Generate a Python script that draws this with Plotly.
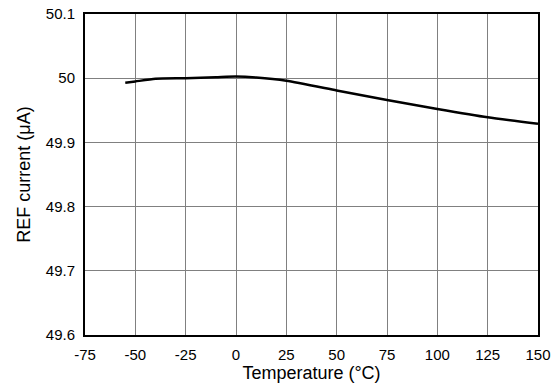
import plotly.graph_objects as go

temperature = [-55, -50, -40, -25, -10, 0, 10, 25, 50, 75, 100, 125, 150]
ref_current = [49.993, 49.995, 49.999, 50.000, 50.0015, 50.0025, 50.001, 49.996, 49.981, 49.966, 49.952, 49.939, 49.929]

x_ticks = [-75, -50, -25, 0, 25, 50, 75, 100, 125, 150]
x_tick_text = ["-75", "-50", "-25", "0", "25", "50", "75", "100", "125", "150"]
y_ticks = [49.6, 49.7, 49.8, 49.9, 50.0, 50.1]
y_tick_text = ["49.6", "49.7", "49.8", "49.9", "50", "50.1"]

fig = go.Figure()
fig.add_trace(go.Scatter(x=temperature, y=ref_current, mode="lines",
                         line=dict(color="black", width=2.5, shape="spline", smoothing=0.6),
                         showlegend=False, hoverinfo="skip"))

font = dict(family="Liberation Sans, Arial, sans-serif", size=15, color="black")
fig.update_layout(
    width=557, height=386,
    margin=dict(l=85, r=19, t=14, b=51, autoexpand=False),
    paper_bgcolor="white", plot_bgcolor="white",
    font=font,
    xaxis=dict(range=[-75, 150], tickvals=x_ticks, ticktext=x_tick_text, showgrid=True,
               gridcolor="#808080", gridwidth=1,
               showline=True, linecolor="black", linewidth=2, mirror=True, zeroline=False,
               ticks="outside", ticklen=5, tickcolor="rgba(0,0,0,0)", automargin=False,
               title=dict(text="Temperature (°C)", standoff=4), tickfont=font),
    yaxis=dict(range=[49.6, 50.1], tickvals=y_ticks, ticktext=y_tick_text, showgrid=True,
               gridcolor="#808080", gridwidth=1, showline=True, linecolor="black", linewidth=2,
               mirror=True, zeroline=False, ticks="outside", ticklen=5, tickcolor="rgba(0,0,0,0)",
               automargin=False,
               title=dict(text="REF current (μA)", standoff=10), tickfont=font),
)
fig.write_html("out.html", config={"displayModeBar": False},
               post_script="document.body.style.margin='0';document.body.style.overflow='hidden';")
